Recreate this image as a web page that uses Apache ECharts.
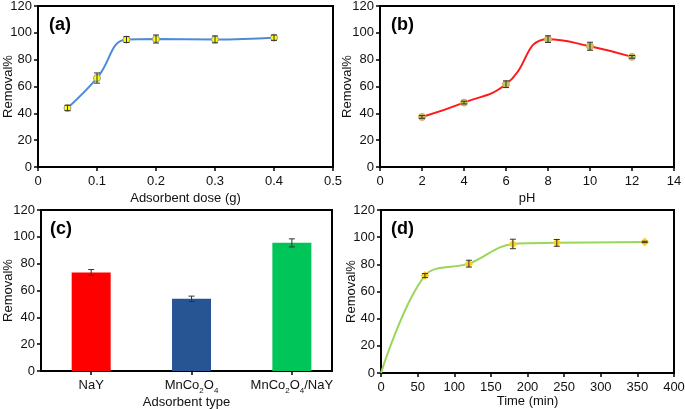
<!DOCTYPE html>
<html><head><meta charset="utf-8">
<script src="https://cdn.jsdelivr.net/npm/echarts@6/dist/echarts.min.js"></script>
<style>html,body{margin:0;padding:0;background:#fff}#c{width:685px;height:409px}</style>
</head><body><div id="c"></div>
<script>
// ---- data ----
const doseX = [0.05, 0.1, 0.15, 0.2, 0.3, 0.4];
const doseY = [44, 66.3, 95, 95.4, 95.1, 96.4];
const doseErr = [2, 3.8, 2.2, 3, 2.6, 2];

const phX = [2, 4, 6, 8, 10, 12];
const phY = [37.3, 48, 61.7, 95.3, 90, 82.1];
const phErr = [1, 1, 2.5, 2.5, 3, 1];

const typeNames = ['NaY', 'MnCo2O4', 'MnCo2O4/NaY'];
const typeY = [73.4, 53.8, 95.5];
const typeErr = [2.2, 2, 3];

const timeX = [0, 60, 120, 180, 240, 360];
const timeY = [0, 71.7, 80.5, 95, 95.8, 96.5];
const timeErr = [0, 1.5, 2.5, 3.5, 2.5, 0.5];

const FONT = '"Liberation Sans", Arial, sans-serif';
const chart = echarts.init(document.getElementById('c'), null, {renderer: 'canvas'});

function pairs(xs, ys) { return xs.map((x, i) => [x, ys[i]]); }
function errData(xs, ys, es) { return xs.map((x, i) => [x, ys[i] - es[i], ys[i] + es[i]]); }

function errSeries(idx, data) {
  return {
    type: 'custom', xAxisIndex: idx, yAxisIndex: idx, z: 5,
    data: data,
    renderItem: function (params, api) {
      const x = api.value(0);
      const lo = api.coord([x, api.value(1)]);
      const hi = api.coord([x, api.value(2)]);
      if (Math.abs(hi[1] - lo[1]) < 1) return null;
      const w = 3;
      const st = {stroke: '#333', lineWidth: 1};
      return {type: 'group', children: [
        {type: 'line', shape: {x1: lo[0], y1: lo[1], x2: hi[0], y2: hi[1]}, style: st},
        {type: 'line', shape: {x1: lo[0] - w, y1: lo[1], x2: lo[0] + w, y2: lo[1]}, style: st},
        {type: 'line', shape: {x1: hi[0] - w, y1: hi[1], x2: hi[0] + w, y2: hi[1]}, style: st}
      ]};
    }
  };
}

const axisLine = {show: true, onZero: false, lineStyle: {color: '#000', width: 2}};
const axisTick = {show: true, inside: false, length: 4, lineStyle: {color: '#000', width: 1.5}};
const lbl = {color: '#111', fontSize: 13, fontFamily: FONT};
const nameStyle = {color: '#111', fontSize: 13, fontFamily: FONT};

function yAxis(idx, gap) {
  return {
    type: 'value', gridIndex: idx, min: 0, max: 120, interval: 20,
    name: 'Removal%', nameLocation: 'middle', nameGap: gap, nameMoveOverlap: false, nameTextStyle: nameStyle,
    axisLine: axisLine, axisTick: axisTick,
    axisLabel: Object.assign({margin: 6}, lbl),
    splitLine: {show: false}
  };
}
function xAxis(idx, min, max, interval, name, gap) {
  return {
    type: 'value', gridIndex: idx, min: min, max: max, interval: interval,
    name: name, nameLocation: 'middle', nameGap: gap, nameTextStyle: nameStyle,
    axisLine: axisLine, axisTick: axisTick,
    axisLabel: Object.assign({margin: 8}, lbl),
    splitLine: {show: false}
  };
}

const gridBase = {show: true, borderColor: '#000', borderWidth: 2, backgroundColor: 'transparent',
  containLabel: false, outerBoundsMode: 'none'};

const option = {
  animation: false,
  backgroundColor: '#fff',
  textStyle: {fontFamily: FONT},
  title: [
    {text: '(a)', left: 44, top: 11},
    {text: '(b)', left: 386, top: 11},
    {text: '(c)', left: 45, top: 215},
    {text: '(d)', left: 386, top: 215}
  ].map(t => Object.assign(t, {textStyle: {fontSize: 18, fontWeight: 'bold', color: '#000', fontFamily: FONT}})),
  grid: [
    Object.assign({left: 38, top: 6, width: 295, height: 161}, gridBase),
    Object.assign({left: 380, top: 6, width: 294, height: 161}, gridBase),
    Object.assign({left: 41, top: 210, width: 291, height: 161}, gridBase),
    Object.assign({left: 381, top: 210, width: 293, height: 163}, gridBase)
  ],
  xAxis: [
    Object.assign(xAxis(0, 0, 0.5, 0.1, 'Adsorbent dose (g)', 25), {
      axisLabel: Object.assign({margin: 8, formatter: v => v === 0 ? '0' : String(+v.toFixed(1))}, lbl)
    }),
    xAxis(1, 0, 14, 2, 'pH', 25),
    {
      type: 'value', gridIndex: 2, min: 0.5, max: 3.4,
      name: 'Adsorbent type', nameLocation: 'middle', nameGap: 25, nameTextStyle: nameStyle,
      axisLine: axisLine,
      axisTick: Object.assign({customValues: [1, 2, 3]}, axisTick),
      axisLabel: Object.assign({
        margin: 5,
        customValues: [1, 2, 3],
        formatter: function (v) {
          const n = typeNames[Math.round(v) - 1] || '';
          return n.replace(/(\d)/g, '{s|$1}').split(/(\{s\|\d\})/).map(p => p.startsWith('{s|') ? p : (p ? '{n|' + p + '}' : '')).join('');
        },
        rich: {
          n: {fontSize: 13, fontFamily: FONT, color: '#111', verticalAlign: 'bottom', lineHeight: 16},
          s: {fontSize: 8, fontFamily: FONT, color: '#111', verticalAlign: 'bottom', lineHeight: 16, padding: [0, 0, -3, 0]}
        }
      }, lbl),
      splitLine: {show: false}
    },
    xAxis(3, 0, 400, 50, 'Time (min)', 21)
  ],
  yAxis: [yAxis(0, 23), yAxis(1, 26), yAxis(2, 26), yAxis(3, 23)],
  series: [
    {
      type: 'line', xAxisIndex: 0, yAxisIndex: 0, smooth: 0.45, data: pairs(doseX, doseY),
      lineStyle: {color: '#4f8ad8', width: 2}, itemStyle: {color: '#ffff00', borderColor: '#999', borderWidth: 1},
      symbol: 'circle', symbolSize: 7, z: 3
    },
    errSeries(0, errData(doseX, doseY, doseErr)),
    {
      type: 'line', xAxisIndex: 1, yAxisIndex: 1, smooth: 0.5, data: pairs(phX, phY),
      lineStyle: {color: '#ff1a1a', width: 2}, itemStyle: {color: '#bcc85a', borderColor: '#e8a060', borderWidth: 1},
      symbol: 'circle', symbolSize: 7, z: 3
    },
    errSeries(1, errData(phX, phY, phErr)),
    {
      type: 'bar', xAxisIndex: 2, yAxisIndex: 2, barWidth: 39,
      data: typeY.map((v, i) => ({value: [i + 1, v], itemStyle: {color: ['#ff0000', '#275593', '#00c65a'][i]}}))
    },
    errSeries(2, errData([1, 2, 3], typeY, typeErr)),
    {
      type: 'line', xAxisIndex: 3, yAxisIndex: 3, smooth: 0.35, data: pairs(timeX, timeY),
      lineStyle: {color: '#9ad65a', width: 2}, itemStyle: {color: '#ffd21a'},
      symbol: 'diamond', symbolSize: 9, z: 3
    },
    errSeries(3, errData(timeX, timeY, timeErr))
  ]
};
// origin point of the time series has no marker
option.series[6].data = option.series[6].data.map((d, i) => i === 0 ? {value: d, symbol: 'none'} : d);
chart.setOption(option);
</script></body></html>
